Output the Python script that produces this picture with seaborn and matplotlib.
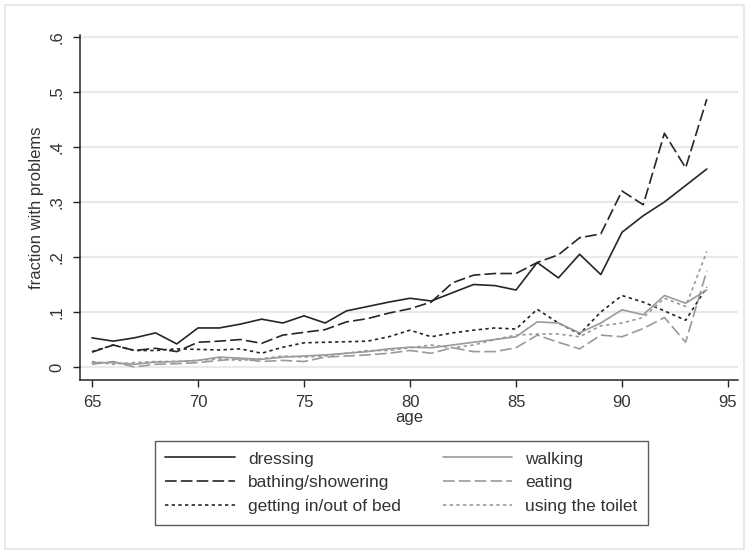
import matplotlib
matplotlib.use("Agg")
import matplotlib.pyplot as plt
from matplotlib.lines import Line2D
from matplotlib.patches import Rectangle
import numpy as np
import pandas as pd
import seaborn as sns

# Share of people reporting difficulty with each activity, by age
ages = list(range(65, 95))

dressing = [.053, .047, .053, .062, .042, .071, .071, .078, .087, .080,
            .093, .080, .102, .110, .118, .125, .120, .135, .150, .148,
            .140, .190, .162, .205, .168, .245, .275, .300, .330, .360]
bathing = [.027, .040, .030, .034, .028, .045, .047, .050, .043, .058,
           .063, .068, .082, .088, .098, .106, .118, .153, .167, .170,
           .170, .190, .204, .235, .242, .320, .295, .425, .362, .487]
bed = [.028, .040, .030, .030, .033, .032, .031, .033, .025, .036,
       .044, .045, .046, .047, .055, .067, .055, .062, .067, .071,
       .069, .105, .080, .060, .100, .130, .118, .102, .085, .145]
walking = [.008, .008, .005, .009, .010, .012, .018, .016, .014, .018,
           .020, .022, .025, .028, .033, .036, .035, .040, .045, .050,
           .055, .082, .080, .062, .080, .104, .095, .130, .116, .140]
eating = [.005, .010, .000, .005, .006, .008, .012, .015, .010, .012,
          .010, .018, .020, .022, .025, .030, .025, .035, .028, .028,
          .035, .058, .045, .033, .058, .055, .070, .090, .045, .175]
toilet = [.010, .005, .008, .010, .010, .012, .015, .012, .015, .020,
          .018, .020, .025, .030, .030, .035, .040, .035, .040, .050,
          .058, .060, .060, .055, .075, .080, .090, .125, .110, .210]

labels = ["dressing", "bathing/showering", "getting in/out of bed",
          "walking", "eating", "using the toilet"]
series = [dressing, bathing, bed, walking, eating, toilet]

y_ticks = [0, .1, .2, .3, .4, .5, .6]
y_tick_labels = ["0", ".1", ".2", ".3", ".4", ".5", ".6"]
x_ticks = [65, 70, 75, 80, 85, 90, 95]

df = pd.DataFrame({
    "age": np.tile(ages, len(labels)),
    "frac": np.concatenate(series),
    "task": np.repeat(labels, len(ages)),
})

dark, light = "#262626", "#9a9a9a"
palette = dict(zip(labels, [dark, dark, dark, light, light, light]))
dash_map = dict(zip(labels, ["", (7, 2.5), (2, 2), "", (7, 2.5), (2, 2)]))

sns.set_theme(style="white")
plt.rcParams["font.family"] = ["Liberation Sans", "DejaVu Sans"]

fig = plt.figure(figsize=(7.49, 5.54), dpi=100)
ax = fig.add_axes([0.1068, 0.3141, 0.8785, 0.6227])

for yt in y_ticks:
    ax.axhline(yt, color="#e9e9e9", lw=1.6, zorder=0)

sns.lineplot(data=df, x="age", y="frac", hue="task", style="task",
             palette=palette, dashes=dash_map, hue_order=labels,
             style_order=labels, linewidth=1.2, legend=False, ax=ax)

ax.set_xlim(64.434, 95.47)
ax.set_ylim(-0.0236, 0.6036)
ax.set_xticks(x_ticks)
ax.set_yticks(y_ticks)
ax.set_yticklabels(y_tick_labels, rotation=90, va="center")
ax.tick_params(axis="both", direction="out", length=5, width=1,
               color="#262626", labelsize=12, labelcolor="#333333",
               left=True, bottom=True)
ax.tick_params(axis="x", pad=6)
ax.tick_params(axis="y", pad=6)
ax.set_xlabel("age", fontsize=12, color="#333333", labelpad=0)
ax.set_ylabel("fraction with problems", fontsize=12, color="#333333",
              labelpad=4)

for side in ["top", "right"]:
    ax.spines[side].set_visible(False)
for side in ["left", "bottom"]:
    ax.spines[side].set_color("#262626")
    ax.spines[side].set_linewidth(1.1)
ax.set_facecolor("white")

handles = [Line2D([], [], color=palette[l], lw=1.2,
                  linestyle=(0, dash_map[l]) if dash_map[l] else "-")
           for l in labels]
leg = fig.legend(handles, labels, loc="upper left", ncol=2,
                 bbox_to_anchor=(0.207, 0.047, 0.658, 0.157),
                 mode="expand", fontsize=12.5, handlelength=4.0,
                 handletextpad=0.75, labelspacing=0.5, borderpad=0.6,
                 borderaxespad=0, fancybox=False, frameon=True,
                 columnspacing=1.0, labelcolor="#333333")
leg.get_frame().set_edgecolor("#333333")
leg.get_frame().set_linewidth(1.0)

fig.patches.append(Rectangle((5 / 749, 5 / 554), 739 / 749, 544 / 554,
                             transform=fig.transFigure, fill=False,
                             edgecolor="#e4e4e4", lw=1.2))

fig.savefig("out.png", dpi=100, facecolor="white")
